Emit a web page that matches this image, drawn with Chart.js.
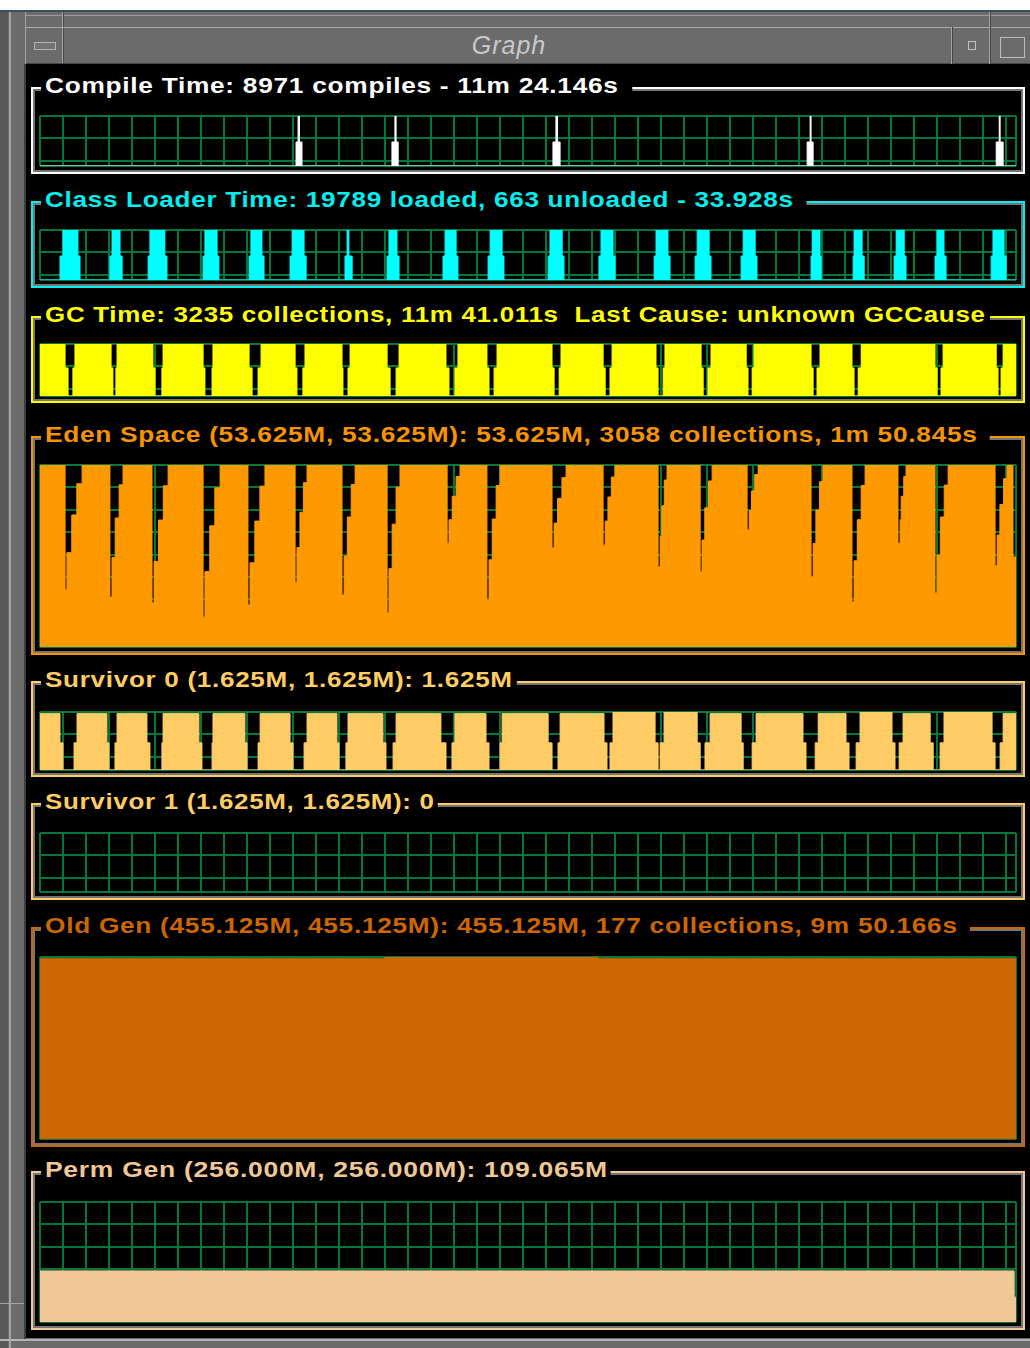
<!DOCTYPE html>
<html>
<head>
<meta charset="utf-8">
<title>Graph</title>
<script src="https://cdn.jsdelivr.net/npm/chart.js@4.4.1/dist/chart.umd.min.js"></script>
<style>
  html, body { margin: 0; padding: 0; background: #fff; }
  body { position: relative; width: 1030px; height: 1348px; overflow: hidden; font-family: "Liberation Sans", Arial, sans-serif; }
  .abs { position: absolute; }
  .box { position: absolute; left: 31px; width: 994px; box-sizing: border-box; border: 2px solid; box-shadow: inset 0 0 0 2px #767676; }
  .ttl { position: absolute; left: 41px; height: 24px; line-height: 24px; padding-left: 4px; background: #000; font-weight: bold; font-size: 22px; white-space: pre; transform-origin: 0 50%; letter-spacing: 0.6px; }
  .plot { position: absolute; left: 39px; width: 978px; }
  .plot canvas { display: block; }
</style>
</head>
<body>
<!-- window frame -->
<div class="abs" style="left:0;top:10px;width:1030px;height:1338px;background:#6b6b6b;"></div>
<div class="abs" style="left:0;top:10px;width:1030px;height:2px;background:#3e4e60;"></div>
<div class="abs" style="left:0;top:12px;width:8px;height:1336px;background:#585858;"></div>
<div class="abs" style="left:9px;top:12px;width:2px;height:1336px;background:#a4a4a4;"></div>
<div class="abs" style="left:26px;top:15px;width:1004px;height:1px;background:#9c9c9c;"></div>
<div class="abs" style="left:25px;top:12px;width:1px;height:52px;background:#a0a0a0;"></div>
<div class="abs" style="left:62px;top:12px;width:1px;height:52px;background:#a4a4a4;"></div>
<div class="abs" style="left:63px;top:12px;width:1px;height:52px;background:#474747;"></div>
<div class="abs" style="left:26px;top:27px;width:1004px;height:1px;background:#a8a8a8;"></div>
<div class="abs" style="left:26px;top:63px;width:1004px;height:1px;background:#474747;"></div>
<div class="abs" style="left:34px;top:42px;width:20px;height:6px;border:1px solid #b4b4b4;background:#747474;"></div>
<div class="abs" style="left:0;top:31px;width:1018px;text-align:center;font-style:italic;font-size:25px;letter-spacing:1px;color:#c8c8c8;font-family:'Liberation Sans',Arial,sans-serif;">Graph</div>
<div class="abs" style="left:951px;top:27px;width:1px;height:37px;background:#a4a4a4;"></div>
<div class="abs" style="left:952px;top:27px;width:1px;height:37px;background:#474747;"></div>
<div class="abs" style="left:968px;top:41px;width:6px;height:7px;border:1px solid #c0c0c0;"></div>
<div class="abs" style="left:989px;top:12px;width:1px;height:52px;background:#a4a4a4;"></div>
<div class="abs" style="left:990px;top:12px;width:1px;height:52px;background:#474747;"></div>
<div class="abs" style="left:1000px;top:37px;width:23px;height:19px;border:1px solid #bdbdbd;"></div>
<div class="abs" style="left:24px;top:64px;width:2px;height:1276px;background:#3e3e3e;"></div>
<div class="abs" style="left:26px;top:64px;width:1004px;height:1274px;background:#000;"></div>
<div class="abs" style="left:0;top:1339px;width:1030px;height:2px;background:#b4b4b4;"></div>
<div class="abs" style="left:0;top:1303px;width:24px;height:1px;background:#a4a4a4;"></div>

<div id="panels"></div>

<script>
// strip chart: time in samples, 10 samples per grid column
const GRID_GREEN = '#00783c';
const T_END = 424.3;
const X_STEP = 10;
const ROW_PX = 22.4;

// Compile Time (relative activity)
const compileT = [0, 111.3, 112.2, 112.8, 113.9, 153.0, 154.3, 154.8, 155.7, 223.0, 224.3, 225.0, 226.1,
  333.5, 334.8, 335.2, 336.1, 415.7, 417.0, 417.4, 418.7, 424.3];
const compileV = [0, 0.48, 1, 0.48, 0, 0.48, 1, 0.48, 0, 0.48, 1, 0.48, 0,
  0.48, 1, 0.48, 0, 0.48, 1, 0.48, 0, 0];

// Class Loader Time (relative activity)
const classT = [0,
  8.7, 10.0, 16.5, 17.4, 30.4, 31.3, 34.8, 35.7, 47.0, 47.8, 54.3, 55.2,
  70.9, 71.7, 77.0, 77.8, 90.9, 91.7, 96.5, 97.4, 108.7, 109.6, 114.8, 115.7,
  132.6, 133.5, 134.3, 135.7, 150.9, 151.7, 155.2, 156.1, 175.2, 176.1, 180.9, 181.7,
  194.8, 195.7, 200.9, 201.7, 220.9, 221.7, 227.0, 227.8, 243.0, 243.9, 249.1, 250.0,
  267.0, 267.8, 273.0, 273.9, 284.8, 285.7, 290.9, 291.7, 304.8, 305.7, 310.9, 311.7,
  335.2, 335.7, 339.1, 339.6, 353.5, 353.9, 357.4, 358.3, 371.3, 372.2, 375.7, 376.5,
  389.1, 390.0, 393.0, 393.9, 413.5, 414.3, 419.1, 420.0,
  424.3];
const classV = [0,
  0.48, 1, 0.48, 0, 0.48, 1, 0.48, 0, 0.48, 1, 0.48, 0,
  0.48, 1, 0.48, 0, 0.48, 1, 0.48, 0, 0.48, 1, 0.48, 0,
  0.48, 1, 0.48, 0, 0.48, 1, 0.48, 0, 0.48, 1, 0.48, 0,
  0.48, 1, 0.48, 0, 0.48, 1, 0.48, 0, 0.48, 1, 0.48, 0,
  0.48, 1, 0.48, 0, 0.48, 1, 0.48, 0, 0.48, 1, 0.48, 0,
  0.48, 1, 0.48, 0, 0.48, 1, 0.48, 0, 0.48, 1, 0.48, 0,
  0.48, 1, 0.48, 0, 0.48, 1, 0.48, 0,
  0];

// GC Time (relative activity)
const gcT = [0,
  10.9, 12.2, 14.3, 15.2, 30.9, 31.7, 33.0, 33.5, 49.1, 50.0, 53.0, 53.5,
  70.9, 71.7, 74.8, 75.2, 90.9, 92.2, 94.8, 96.1, 110.9, 111.7, 114.3, 115.2,
  131.3, 131.7, 133.9, 134.8, 150.9, 152.2, 154.8, 156.1, 176.5, 177.8, 180.4, 181.7,
  194.3, 195.2, 197.4, 198.7, 222.6, 223.5, 225.7, 226.5, 244.8, 245.7, 247.8, 248.7,
  267.8, 268.7, 270.9, 271.7, 287.4, 288.3, 290.4, 291.7, 307.0, 307.8, 309.6, 310.4,
  335.2, 336.1, 337.8, 339.1, 353.0, 353.9, 355.7, 357.0, 389.1, 390.0, 391.7, 392.6,
  415.7, 416.5, 417.8, 418.7,
  424.3];
const gcV = [1,
  0.54, 0, 0.54, 1, 0.54, 0, 0.54, 1, 0.54, 0, 0.54, 1,
  0.54, 0, 0.54, 1, 0.54, 0, 0.54, 1, 0.54, 0, 0.54, 1,
  0.54, 0, 0.54, 1, 0.54, 0, 0.54, 1, 0.54, 0, 0.54, 1,
  0.54, 0, 0.54, 1, 0.54, 0, 0.54, 1, 0.54, 0, 0.54, 1,
  0.54, 0, 0.54, 1, 0.54, 0, 0.54, 1, 0.54, 0, 0.54, 1,
  0.54, 0, 0.54, 1, 0.54, 0, 0.54, 1, 0.54, 0, 0.54, 1,
  0.54, 0, 0.54, 1,
  1];

// Eden Space used (MB)
const edenT = [0,
  10.9, 11.7, 13.8, 16.0, 18.3,
  30.4, 31.3, 32.7, 34.4, 36.1,
  48.7, 49.6, 51.5, 53.6, 55.7,
  70.9, 71.7, 73.8, 76.0, 78.3,
  90.4, 91.3, 93.4, 95.6, 97.8,
  110.9, 111.7, 113.0, 114.5, 116.1,
  131.3, 132.2, 133.6, 135.3, 137.0,
  150.9, 151.7, 153.1, 154.8, 156.5,
  177.0, 177.8, 179.2, 180.9, 182.6,
  194.3, 195.2, 196.6, 198.3, 200.0,
  222.6, 223.5, 225.0, 226.9, 228.7,
  244.8, 245.7, 246.9, 248.4, 250.0,
  268.7, 269.6, 270.3, 271.4, 272.6,
  287.0, 287.8, 289.0, 290.6, 292.2,
  307.4, 308.3, 309.3, 310.7, 312.2,
  335.2, 336.1, 337.3, 338.9, 340.4,
  353.0, 353.9, 355.3, 357.0, 358.7,
  373.0, 373.9, 374.4, 375.5, 376.5,
  389.1, 390.0, 391.4, 393.1, 394.8,
  415.2, 416.1, 417.3, 418.9, 420.4,
  423.0, 424.3];
const edenV = [53.625,
  16.8, 27.8, 38.9, 48.1, 53.625,
  14.7, 26.4, 38.0, 47.8, 53.625,
  13.0, 25.2, 37.4, 47.5, 53.625,
  8.8, 22.2, 35.7, 46.9, 53.625,
  12.4, 24.8, 37.1, 47.4, 53.625,
  18.9, 29.3, 39.7, 48.4, 53.625,
  15.3, 26.8, 38.3, 47.9, 53.625,
  10.0, 23.1, 36.2, 47.1, 53.625,
  30.6, 37.5, 44.4, 50.2, 53.625,
  13.8, 25.7, 37.7, 47.6, 53.625,
  29.2, 36.5, 43.8, 49.9, 53.625,
  30.0, 37.1, 44.2, 50.1, 53.625,
  23.6, 32.6, 41.6, 49.2, 53.625,
  22.1, 31.5, 41.0, 48.9, 53.625,
  34.5, 40.2, 46.0, 50.8, 53.625,
  20.6, 30.5, 40.4, 48.7, 53.625,
  13.3, 25.4, 37.5, 47.6, 53.625,
  30.6, 37.5, 44.4, 50.2, 53.625,
  15.9, 27.1, 38.3, 47.7, 53.625,
  23.9, 33.0, 42.0, 49.6, 53.625,
  26.5, 26.5];

// Survivor 0 used (MB)
const s0T = [0,
  8.7, 10.0, 14.8, 16.1, 29.1, 30.0, 32.6, 33.5, 46.5, 47.8, 53.0, 53.5,
  69.1, 70.4, 74.8, 75.2, 89.1, 90.0, 94.8, 95.7, 108.7, 110.0, 114.8, 116.1,
  129.1, 130.0, 133.0, 133.9, 149.1, 150.4, 153.5, 154.8, 174.3, 176.5, 179.1, 180.4,
  193.9, 195.2, 200.0, 200.9, 220.9, 222.6, 225.2, 226.1, 245.2, 246.5, 247.8, 249.1,
  267.4, 268.7, 269.6, 271.3, 285.7, 287.0, 289.1, 291.3, 304.8, 305.7, 309.6, 311.3,
  331.7, 333.0, 337.0, 338.3, 350.4, 351.7, 354.8, 356.5, 370.4, 371.7, 373.5, 375.2,
  387.0, 388.3, 391.3, 393.0, 413.9, 415.2, 417.4, 418.7,
  424.3];
const s0V = [1.58,
  0.76, 0, 0.76, 1.58, 0.76, 0, 0.76, 1.58, 0.76, 0, 0.76, 1.58,
  0.76, 0, 0.76, 1.58, 0.76, 0, 0.76, 1.58, 0.76, 0, 0.76, 1.58,
  0.76, 0, 0.76, 1.58, 0.76, 0, 0.76, 1.58, 0.76, 0, 0.76, 1.58,
  0.76, 0, 0.76, 1.58, 0.76, 0, 0.76, 1.58, 0.76, 0, 0.76, 1.625,
  0.76, 0, 0.76, 1.625, 0.76, 0, 0.76, 1.58, 0.76, 0, 0.76, 1.58,
  0.76, 0, 0.76, 1.58, 0.76, 0, 0.76, 1.625, 0.76, 0, 0.76, 1.58,
  0.76, 0, 0.76, 1.625, 0.76, 0, 0.76, 1.58,
  1.58];

// Survivor 1 used (MB)
const s1T = [0, 424.3];
const s1V = [0, 0];

// Old Gen used (MB)
const oldT = [0, 150.0, 242.6, 424.3];
const oldV = [451, 455.125, 451, 451];

// Perm Gen used (MB)
const permT = [0, 423.5, 424.3];
const permV = [109.065, 53, 53];

const panels = [
  { title: 'Compile Time: 8971 compiles - 11m 24.146s', color: '#ffffff', fill: '#ffffff', top: 87, bottom: 174, plotTop: 116, plotBottom: 166, textEnd: 618, gap: 14, t: compileT, v: compileV, max: 1 },
  { title: 'Class Loader Time: 19789 loaded, 663 unloaded - 33.928s', color: '#00f0f0', fill: '#00ffff', top: 201, bottom: 288, plotTop: 230, plotBottom: 280, textEnd: 793, gap: 13, t: classT, v: classV, max: 1 },
  { title: 'GC Time: 3235 collections, 11m 41.011s  Last Cause: unknown GCCause', color: '#ffff00', fill: '#ffff00', top: 316, bottom: 403, plotTop: 344, plotBottom: 396, textEnd: 985, gap: 5, t: gcT, v: gcV, max: 1 },
  { title: 'Eden Space (53.625M, 53.625M): 53.625M, 3058 collections, 1m 50.845s', color: '#f59400', fill: '#ff9900', top: 436, bottom: 655, plotTop: 465, plotBottom: 647, textEnd: 977, gap: 13, t: edenT, v: edenV, max: 53.625 },
  { title: 'Survivor 0 (1.625M, 1.625M): 1.625M', color: '#ffcc66', fill: '#ffcc66', top: 681, bottom: 777, plotTop: 712, plotBottom: 770, textEnd: 512, gap: 5, t: s0T, v: s0V, max: 1.625 },
  { title: 'Survivor 1 (1.625M, 1.625M): 0', color: '#ffcc66', fill: '#ffcc66', top: 803, bottom: 900, plotTop: 833, plotBottom: 892, textEnd: 434, gap: 4, t: s1T, v: s1V, max: 1.625, noLine: true },
  { title: 'Old Gen (455.125M, 455.125M): 455.125M, 177 collections, 9m 50.166s', color: '#cc6600', fill: '#cc6600', top: 927, bottom: 1147, plotTop: 957, plotBottom: 1139, textEnd: 957, gap: 13, t: oldT, v: oldV, max: 455.125 },
  { title: 'Perm Gen (256.000M, 256.000M): 109.065M', color: '#f0c896', fill: '#f0c896', top: 1171, bottom: 1330, plotTop: 1202, plotBottom: 1322, textEnd: 607, gap: 4, t: permT, v: permV, max: 256 }
];

const host = document.getElementById('panels');
const mctx = document.createElement('canvas').getContext('2d');
mctx.font = 'bold 22px "Liberation Sans"';
const TITLE_LS = 0.6;

panels.forEach(function (p) {
  const box = document.createElement('div');
  box.className = 'box';
  box.style.top = p.top + 'px';
  box.style.height = (p.bottom - p.top) + 'px';
  box.style.borderColor = p.color;
  host.appendChild(box);

  // title sits on the top edge, stretched horizontally to the width in the original
  const ttl = document.createElement('div');
  ttl.className = 'ttl';
  ttl.textContent = p.title;
  ttl.style.color = p.color;
  ttl.style.top = (p.top - 13) + 'px';
  const natural = mctx.measureText(p.title).width + TITLE_LS * (p.title.length - 1);
  const k = (p.textEnd - 45) / natural;
  ttl.style.transform = 'scaleX(' + k.toFixed(4) + ')';
  ttl.style.paddingLeft = (4 / k).toFixed(1) + 'px';
  ttl.style.paddingRight = Math.max(0, p.gap / k - TITLE_LS).toFixed(1) + 'px';
  host.appendChild(ttl);

  const h = p.plotBottom - p.plotTop;
  const wrap = document.createElement('div');
  wrap.className = 'plot';
  wrap.style.top = (p.plotTop - 1) + 'px';
  wrap.style.height = (h + 2) + 'px';
  const cv = document.createElement('canvas');
  wrap.appendChild(cv);
  host.appendChild(wrap);

  const rowMax = h / ROW_PX;
  const pts = p.t.map(function (t, i) { return { x: t, y: p.v[i] }; });

  new Chart(cv, {
    type: 'line',
    data: {
      datasets: [{
        data: pts,
        stepped: 'before',
        fill: 'origin',
        backgroundColor: p.fill,
        borderColor: p.noLine ? 'rgba(0,0,0,0)' : p.fill,
        borderWidth: 1,
        pointRadius: 0,
        tension: 0
      }]
    },
    options: {
      responsive: true, maintainAspectRatio: false,
      animation: false, devicePixelRatio: 1, events: [],
      layout: { padding: 1 },
      plugins: { legend: { display: false }, tooltip: { enabled: false } },
      scales: {
        x: {
          type: 'linear', min: 0, max: T_END, bounds: 'data',
          ticks: { display: false },
          grid: { color: GRID_GREEN, lineWidth: 2, drawTicks: false },
          border: { display: false },
          afterBuildTicks: function (s) {
            const tk = [];
            for (let v = 0; v < T_END - 0.5; v += X_STEP) tk.push({ value: v });
            tk.push({ value: T_END });
            s.ticks = tk;
          }
        },
        y: { type: 'linear', min: 0, max: p.max, display: false },
        rows: {
          type: 'linear', position: 'left', reverse: true, min: 0, max: rowMax, bounds: 'data',
          ticks: { display: false },
          grid: { color: GRID_GREEN, lineWidth: 2, drawTicks: false },
          border: { display: false },
          afterBuildTicks: function (s) {
            const tk = [];
            for (let r = 0; r < rowMax - 0.1; r += 1) tk.push({ value: r });
            tk.push({ value: rowMax });
            s.ticks = tk;
          }
        }
      }
    }
  });
});
</script>
</body>
</html>
